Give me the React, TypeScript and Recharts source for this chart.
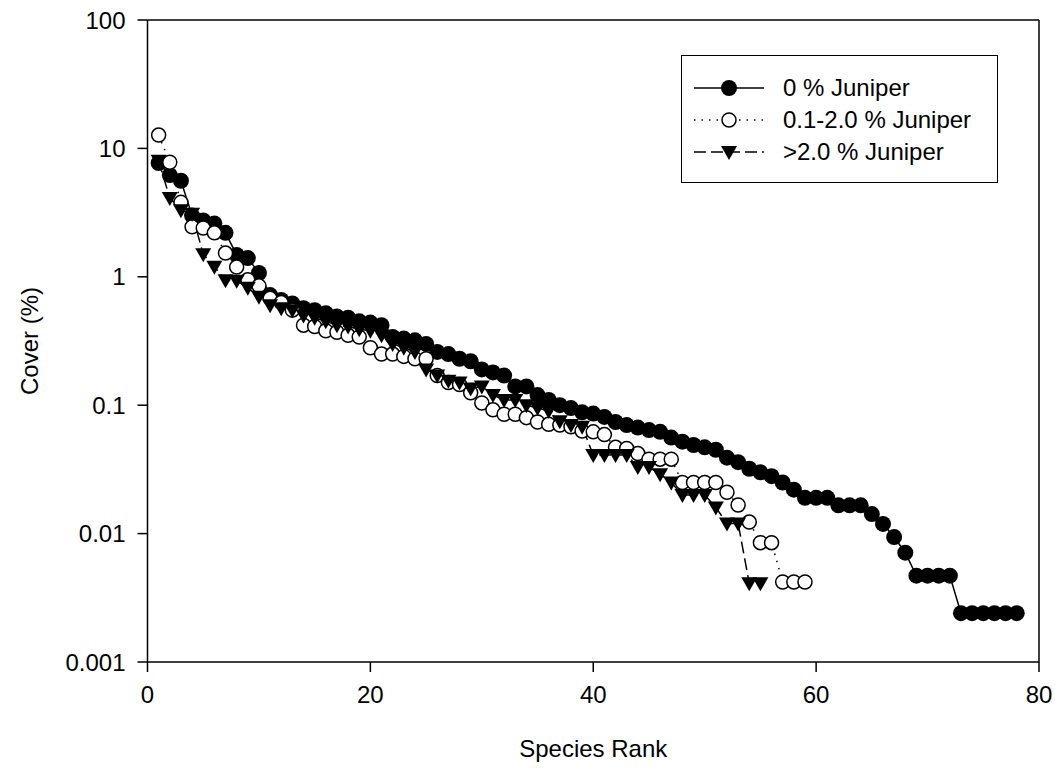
import { Line, LineChart, ReferenceLine, XAxis, YAxis } from "recharts"

// cover (%) by species rank, one list per juniper class
const coverNone = [
  7.7, 6.2, 5.6, 3.0, 2.75, 2.6, 2.2, 1.48, 1.4, 1.07,
  0.72, 0.66, 0.62, 0.57, 0.55, 0.52, 0.49, 0.48, 0.45, 0.44,
  0.42, 0.34, 0.33, 0.32, 0.3, 0.26, 0.25, 0.23, 0.22, 0.19,
  0.18, 0.17, 0.14, 0.14, 0.12, 0.11, 0.1, 0.095, 0.088, 0.086,
  0.081, 0.074, 0.07, 0.067, 0.064, 0.062, 0.056, 0.052, 0.049, 0.047,
  0.045, 0.039, 0.036, 0.032, 0.03, 0.028, 0.025, 0.022, 0.019, 0.019,
  0.019, 0.0166, 0.0166, 0.0166, 0.0142, 0.0119, 0.0094, 0.0071, 0.0047, 0.0047,
  0.0047, 0.0047, 0.0024, 0.0024, 0.0024, 0.0024, 0.0024, 0.0024,
]

const coverLow = [
  12.7, 7.8, 3.8, 2.45, 2.4, 2.2, 1.53, 1.19, 0.95, 0.85,
  0.68, 0.63, 0.55, 0.42, 0.41, 0.38, 0.37, 0.35, 0.34, 0.28,
  0.25, 0.25, 0.24, 0.23, 0.23, 0.17, 0.15, 0.145, 0.125, 0.104,
  0.092, 0.085, 0.085, 0.08, 0.074, 0.071, 0.07, 0.068, 0.063, 0.062,
  0.059, 0.047, 0.046, 0.042, 0.038, 0.038, 0.038, 0.025, 0.025, 0.025,
  0.025, 0.021, 0.0167, 0.0123, 0.0085, 0.0085, 0.0042, 0.0042, 0.0042,
]

const coverHigh = [
  8.0, 4.1, 3.3, 3.1, 1.5, 1.2, 0.94, 0.93, 0.82, 0.7,
  0.6, 0.57, 0.55, 0.5, 0.48, 0.45, 0.42, 0.41, 0.39, 0.38,
  0.35, 0.3, 0.28, 0.26, 0.19, 0.17, 0.155, 0.15, 0.135, 0.14,
  0.12, 0.11, 0.11, 0.1, 0.095, 0.09, 0.075, 0.07, 0.068, 0.041,
  0.041, 0.041, 0.041, 0.033, 0.033, 0.029, 0.025, 0.02, 0.02, 0.02,
  0.016, 0.012, 0.012, 0.0041, 0.0041,
]

const xTicks = [0, 20, 40, 60, 80]
const yTicks = [0.001, 0.01, 0.1, 1, 10, 100]
const seriesNames = ["0 % Juniper", "0.1-2.0 % Juniper", ">2.0 % Juniper"]

const toPoints = (values: number[]) => values.map((cover, i) => ({ rank: i + 1, cover }))

const FONT = "'Liberation Sans', Arial, sans-serif"

const Triangle = (props: any) => {
  const { cx, cy } = props
  if (cx == null || cy == null) return null
  return <path d={`M${cx - 8},${cy - 6} L${cx + 8},${cy - 6} L${cx},${cy + 8} Z`} fill="#000" />
}

const fmtTick = (v: number) => String(v)

function LegendBox() {
  const rows = [
    { dash: undefined, marker: <circle cx={47} cy={0} r={8} fill="#000" /> },
    { dash: "1.5 6", marker: <circle cx={47} cy={0} r={7} fill="#fff" stroke="#000" strokeWidth={1.5} /> },
    { dash: "12 5", marker: <path d="M39,-6 L55,-6 L47,8 Z" fill="#000" /> },
  ]
  return (
    <div
      style={{
        position: "absolute",
        left: 681,
        top: 55,
        width: 315,
        height: 126,
        border: "1.5px solid #000",
        background: "#fff",
      }}
    >
      <svg width={315} height={126} style={{ display: "block" }}>
        {rows.map((row, i) => (
          <g key={i} transform={`translate(0, ${32 + i * 32})`}>
            <line x1={12} x2={82} y1={0} y2={0} stroke="#000" strokeWidth={1.5} strokeDasharray={row.dash} />
            {row.marker}
            <text x={101} y={0} dy="0.35em" fontSize={24} fontFamily={FONT} fill="#000">
              {seriesNames[i]}
            </text>
          </g>
        ))}
      </svg>
    </div>
  )
}

export default function App() {
  return (
    <div style={{ position: "absolute", left: 0, top: 0, width: 1055, height: 770 }}>
      <style>{`body { margin: 0; }`}</style>
      <LineChart width={1055} height={770} margin={{ top: 20, right: 16, bottom: 48, left: 60 }}>
        <XAxis
          type="number"
          dataKey="rank"
          domain={[0, 80]}
          ticks={xTicks}
          allowDataOverflow
          height={60}
          tickSize={10}
          tickMargin={14}
          stroke="#000"
          strokeWidth={1.5}
          tick={{ fill: "#000", fontSize: 24, fontFamily: FONT }}
          label={{ value: "Species Rank", position: "bottom", offset: 18, fill: "#000", fontSize: 24, fontFamily: FONT }}
        />
        <YAxis
          type="number"
          scale="log"
          domain={[0.001, 100]}
          ticks={yTicks}
          allowDataOverflow
          width={87.5}
          tickSize={10}
          tickMargin={12}
          tickFormatter={fmtTick}
          stroke="#000"
          strokeWidth={1.5}
          tick={{ fill: "#000", fontSize: 24, fontFamily: FONT }}
          label={{
            value: "Cover (%)",
            content: () => (
              <text x={29} y={341} transform="rotate(-90 29 341)" textAnchor="middle" dominantBaseline="central" fontSize={24} fontFamily={FONT} fill="#000">
                Cover (%)
              </text>
            ),
          }}
        />
        <ReferenceLine y={100} stroke="#000" strokeWidth={1.5} />
        <ReferenceLine x={80} stroke="#000" strokeWidth={1.5} />
        <Line
          data={toPoints(coverNone)}
          dataKey="cover"
          name={seriesNames[0]}
          stroke="#000"
          strokeWidth={1.5}
          dot={{ r: 8, fill: "#000", stroke: "#000", strokeWidth: 0 }}
          isAnimationActive={false}
        />
        <Line
          data={toPoints(coverLow)}
          dataKey="cover"
          name={seriesNames[1]}
          stroke="#000"
          strokeWidth={1.5}
          strokeDasharray="1.5 6"
          dot={{ r: 7, fill: "#fff", stroke: "#000", strokeWidth: 1.5, strokeDasharray: "" }}
          isAnimationActive={false}
        />
        <Line
          data={toPoints(coverHigh)}
          dataKey="cover"
          name={seriesNames[2]}
          stroke="#000"
          strokeWidth={1.5}
          strokeDasharray="12 5"
          dot={<Triangle />}
          isAnimationActive={false}
        />
      </LineChart>
      <LegendBox />
    </div>
  )
}
